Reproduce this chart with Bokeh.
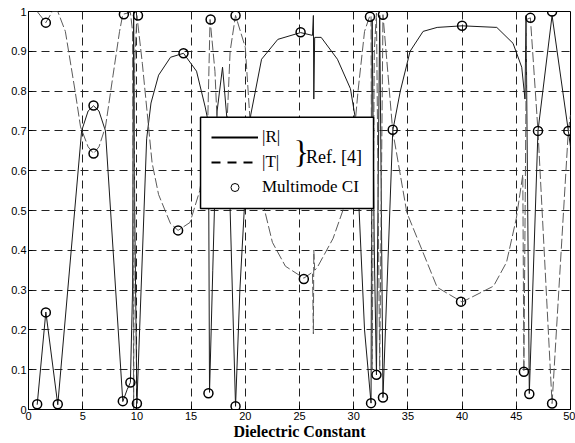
from bokeh.plotting import figure
from bokeh.models import FixedTicker, Legend, LegendItem, Label, BoxAnnotation
from bokeh.embed import file_html
from bokeh.resources import INLINE

# |R| (solid)
R_eps = [0.8, 1.6, 2.7, 4.9, 5.5, 6.0, 6.5, 7.1, 8.7, 9.1,
         9.4, 9.6, 9.7, 9.8, 10.0, 10.9, 11.3, 12.0, 13.1, 14.3,
         15.5, 16.3, 16.6, 16.7, 17.0, 17.4, 17.9, 18.4, 19.1, 19.5,
         20.0, 20.5, 21.5, 23.0, 25.1, 26.2, 26.28, 26.32, 26.4, 27.0,
         28.5, 29.7, 30.1, 30.5, 31.0, 31.6, 31.7, 31.9, 32.1, 32.4,
         32.7, 33.6, 34.3, 35.2, 36.4, 37.7, 40.0, 43.2, 44.7, 45.5,
         45.8, 45.9, 46.2, 47.0, 48.3, 49.8, 50.0]
R_val = [0.012, 0.245, 0.012, 0.70, 0.75, 0.763, 0.75, 0.70, 0.02, 0.05,
         0.068, 0.3, 1.0, 0.5, 0.015, 0.68, 0.77, 0.84, 0.885, 0.895,
         0.85, 0.76, 0.72, 0.043, 0.35, 0.75, 0.86, 0.7, 0.008, 0.3,
         0.55, 0.74, 0.88, 0.93, 0.947, 0.94, 0.99, 0.78, 0.935, 0.935,
         0.88, 0.806, 0.74, 0.5, 0.2, 0.016, 0.98, 0.4, 0.087, 0.99,
         0.03, 0.70, 0.80, 0.90, 0.95, 0.96, 0.964, 0.96, 0.92, 0.86,
         0.78, 0.99, 0.04, 0.70, 0.99, 0.70, 0.66]

# |T| (dashed)
T_eps = [0.8, 1.6, 2.2, 2.7, 3.4, 4.3, 4.8, 5.5, 6.0, 6.5,
         7.1, 7.8, 8.4, 8.7, 9.4, 9.6, 9.7, 9.8, 10.0, 10.5,
         11.4, 12.0, 13.1, 13.8, 14.9, 15.8, 16.5, 16.75, 17.2, 17.5,
         17.9, 18.3, 18.6, 19.1, 20.0, 20.5, 21.0, 21.7, 22.5, 23.7,
         25.4, 26.2, 26.28, 26.32, 26.4, 26.6, 28.1, 29.0, 29.8, 30.4,
         31.0, 31.46, 31.6, 31.7, 31.9, 32.1, 32.4, 32.7, 33.6, 34.9,
         37.7, 40.0, 42.9, 44.1, 45.0, 45.6, 45.7, 45.95, 46.3, 47.0,
         48.3, 49.8, 50.0]
T_val = [1.0, 0.972, 1.0, 1.0, 0.95, 0.80, 0.71, 0.66, 0.643, 0.66,
         0.71, 0.84, 0.95, 0.993, 0.998, 0.95, 0.0, 0.87, 0.99, 0.87,
         0.62, 0.54, 0.467, 0.45, 0.47, 0.55, 0.68, 0.98, 0.85, 0.66,
         0.51, 0.71, 0.90, 0.99, 0.91, 0.70, 0.58, 0.51, 0.42, 0.36,
         0.33, 0.345, 0.19, 0.40, 0.35, 0.355, 0.43, 0.50, 0.62, 0.80,
         0.95, 0.987, 0.99, 0.10, 0.90, 0.996, 0.10, 0.992, 0.70, 0.495,
         0.307, 0.27, 0.31, 0.37, 0.48, 0.59, 0.095, 0.98, 0.984, 0.70,
         0.015, 0.70, 0.74]

# Multimode CI (circles)
CI_eps = [0.8, 1.6, 1.6, 2.7, 6.0, 6.0, 8.7, 8.8, 9.4, 10.0,
          10.1, 13.8, 14.3, 16.6, 16.8, 19.1, 19.1, 25.1, 25.4, 31.5,
          31.6, 32.1, 32.7, 32.7, 33.6, 40.0, 39.9, 45.7, 46.3, 46.2,
          47.0, 48.3, 48.3, 49.8]
CI_val = [0.013, 0.244, 0.972, 0.013, 0.764, 0.643, 0.021, 0.993, 0.068, 0.015,
          0.99, 0.45, 0.895, 0.041, 0.98, 0.99, 0.008, 0.948, 0.328, 0.987,
          0.016, 0.087, 0.992, 0.030, 0.703, 0.964, 0.271, 0.095, 0.984, 0.039,
          0.70, 1.0, 0.015, 0.70]

x_ticks = [0, 5, 10, 15, 20, 25, 30, 35, 40, 45, 50]
y_ticks = [0, 0.1, 0.2, 0.3, 0.4, 0.5, 0.6, 0.7, 0.8, 0.9, 1]
y_tick_labels = ["0", "0.1", "0.2", "0.3", "0.4", "0.5", "0.6", "0.7", "0.8", "0.9", "1"]

NAN = float("nan")

p = figure(width=575, height=443, x_range=(0, 50), y_range=(0, 1),
           output_backend="svg", toolbar_location=None,
           min_border_left=28, min_border_right=5, min_border_top=11, min_border_bottom=34)
p.background_fill_color = "white"
p.border_fill_color = "white"
p.outline_line_color = "black"
p.outline_line_width = 1

for ax in (p.xaxis[0], p.yaxis[0]):
    ax.axis_line_color = "black"
    ax.major_tick_in = 4
    ax.major_tick_out = 0
    ax.minor_tick_line_color = None
    ax.major_tick_line_color = "black"
    ax.major_label_text_font = "Liberation Sans"
    ax.major_label_text_font_size = "11px"
    ax.major_label_text_color = "black"
    ax.major_label_standoff = 2

p.xaxis.ticker = FixedTicker(ticks=x_ticks)
p.yaxis.ticker = FixedTicker(ticks=y_ticks)
p.yaxis.major_label_overrides = {t: s for t, s in zip(y_ticks, y_tick_labels)}
p.xaxis.axis_label = "Dielectric Constant"
p.xaxis.axis_label_text_font = "Liberation Serif"
p.xaxis.axis_label_text_font_style = "bold"
p.xaxis.axis_label_text_font_size = "16px"
p.xaxis.axis_label_text_color = "black"
p.xaxis.axis_label_standoff = 0

p.grid.grid_line_color = "#222222"
p.grid.grid_line_dash = "8 5"
p.grid.grid_line_width = 1

p.line(R_eps, R_val, line_color="#1a1a1a", line_width=1)
p.line(T_eps, T_val, line_color="#5a5a5a", line_width=1, line_dash="10 3")
p.scatter(CI_eps, CI_val, marker="circle", size=9, fill_color=None,
          line_color="black", line_width=1.5)

# legend-only renderers (one NaN sample each, nothing drawn in the plot)
lr = p.line([NAN], [NAN], line_color="black", line_width=2)
lt = p.line([NAN], [NAN], line_color="black", line_width=2, line_dash="9 7")
lc = p.scatter([NAN], [NAN], marker="circle", size=7, fill_color=None,
               line_color="black", line_width=1)

# legend frame (white box) drawn first
p.add_layout(BoxAnnotation(left=15.87, right=31.83, top=0.734, bottom=0.505,
                           fill_color="white", fill_alpha=1.0,
                           line_color="black", line_width=1.5, line_alpha=1.0,
                           line_dash="solid"))

legend = Legend(items=[LegendItem(label="|R|", renderers=[lr]),
                       LegendItem(label="|T|", renderers=[lt]),
                       LegendItem(label="Multimode CI", renderers=[lc])],
                location=(172, 201), orientation="vertical",
                glyph_width=47, glyph_height=20, label_height=20, spacing=5,
                padding=11, margin=0, label_standoff=4,
                label_text_font="Liberation Serif", label_text_font_size="17px",
                label_text_color="black",
                border_line_alpha=0, background_fill_alpha=0)
p.add_layout(legend, "center")

p.add_layout(Label(x=25.15, y=0.648, text="}", text_font="Liberation Serif",
                   text_font_size="32px", text_align="center", text_baseline="middle",
                   text_color="black"))
p.add_layout(Label(x=25.6, y=0.634, text="Ref. [4]", text_font="Liberation Serif",
                   text_font_size="18px", text_align="left", text_baseline="middle",
                   text_color="black"))

open("out.html", "w").write(file_html(p, INLINE))
